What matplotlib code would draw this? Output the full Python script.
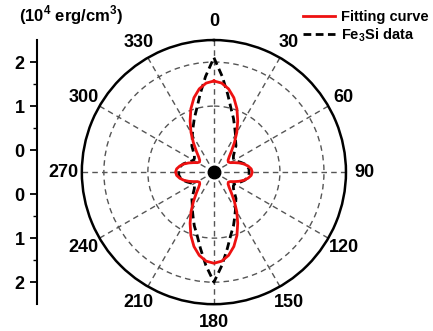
#Polar plot of magnetic anisotropy energy: fitting curve against Fe3Si data.
#Left side carries a linear scale matching the radial axis.

import numpy as np
import matplotlib
matplotlib.use('Agg')
import matplotlib.pyplot as plt

plt.rcParams['font.family'] = ['Liberation Sans', 'DejaVu Sans']
plt.rcParams['font.weight'] = 'bold'
plt.rcParams['mathtext.fontset'] = 'custom'
plt.rcParams['mathtext.rm'] = 'Liberation Sans:bold'
plt.rcParams['mathtext.bf'] = 'Liberation Sans:bold'

#angles in degrees, one value every 5 degrees
angles = list(range(0, 361, 5))

fit_curve = [1.57, 1.53, 1.42, 1.25, 1.03, 0.78, 0.54, 0.31, 0.12, -0.01,
             -0.08, -0.10, -0.07, 0.01, 0.11, 0.21, 0.29, 0.35, 0.37,
             0.35, 0.29, 0.21, 0.11, 0.01, -0.07, -0.10, -0.08, -0.01,
             0.12, 0.31, 0.54, 0.78, 1.03, 1.25, 1.42, 1.53, 1.57,
             1.53, 1.42, 1.25, 1.03, 0.78, 0.54, 0.31, 0.12, -0.01,
             -0.08, -0.10, -0.07, 0.01, 0.11, 0.21, 0.29, 0.35, 0.37,
             0.35, 0.29, 0.21, 0.11, 0.01, -0.07, -0.10, -0.08, -0.01,
             0.12, 0.31, 0.54, 0.78, 1.03, 1.25, 1.42, 1.53, 1.57]

fe3si_data = [2.10, 1.68, 1.30, 1.00, 0.80, 0.62, 0.48, 0.36, 0.28, 0.16,
              0.08, 0.04, 0.04, 0.08, 0.15, 0.22, 0.27, 0.30, 0.30,
              0.30, 0.27, 0.22, 0.15, 0.08, 0.04, 0.04, 0.08, 0.16,
              0.28, 0.36, 0.48, 0.62, 0.80, 0.98, 1.26, 1.62, 2.00,
              1.62, 1.26, 0.98, 0.80, 0.62, 0.48, 0.36, 0.28, 0.16,
              0.08, 0.04, 0.04, 0.08, 0.15, 0.22, 0.27, 0.30, 0.30,
              0.30, 0.27, 0.22, 0.15, 0.08, 0.04, 0.04, 0.08, 0.16,
              0.28, 0.36, 0.48, 0.62, 0.80, 1.00, 1.30, 1.68, 2.10]

angle_ticks = [0, 30, 60, 90, 120, 150, 180, 210, 240, 270, 300, 330]
scale_labels = ['2', '1', '0', '0', '1', '2']

r_min = -0.5
r_max = 2.5

fig = plt.figure(figsize=(4.33, 3.31), dpi=100)
ax = fig.add_axes([0.189, 0.081, 0.610, 0.798], projection='polar')
ax.set_theta_zero_location('N')
ax.set_theta_direction(-1)

theta = np.deg2rad(angles)
line_data, = ax.plot(theta, fe3si_data, color='black', lw=2.0,
                     linestyle=(0, (2.8, 1.6)), label='Fe$_\\mathbf{3}$Si data')
line_fit, = ax.plot(theta, fit_curve, color='#ee1111', lw=2.0, label='Fitting curve')
ax.plot([0], [r_min], 'o', color='black', markersize=9)

ax.set_ylim(r_min, r_max)
ax.set_yticks([1, 2])
ax.set_yticklabels([])
ax.set_xticks(np.deg2rad(angle_ticks))
ax.set_xticklabels([str(a) for a in angle_ticks], fontsize=13, fontweight='bold')
ax.set_xticks(np.deg2rad(np.arange(15, 360, 30)), minor=True)
ax.tick_params(axis='x', which='major', direction='in', length=5, width=1.2, pad=6)
ax.tick_params(axis='x', which='minor', direction='in', length=3, width=1.0)
ax.grid(True, color='#555555', linestyle=(0, (4, 3)), linewidth=1.0)
ax.spines['polar'].set_linewidth(1.8)

#linear scale on the left, in units of distance from the centre
ax2 = fig.add_axes([0.0855, 0.081, 0.001, 0.798])
ax2.set_ylim(-(r_max - r_min), r_max - r_min)
ax2.set_xlim(0, 1)
for s in ['right', 'top', 'bottom']:
    ax2.spines[s].set_visible(False)
ax2.spines['left'].set_linewidth(1.5)
ax2.set_xticks([])
ax2.set_yticks([2.5, 1.5, 0.5, -0.5, -1.5, -2.5])
ax2.set_yticklabels(scale_labels, fontsize=13, fontweight='bold')
ax2.set_yticks([2.0, 1.0, -1.0, -2.0], minor=True)
ax2.tick_params(axis='y', which='major', length=5, width=1.3, pad=4)
ax2.tick_params(axis='y', which='minor', length=3, width=1.0)
ax2.patch.set_visible(False)

fig.text(0.045, 0.955, '(10$^\\mathbf{4}$ erg/cm$^\\mathbf{3}$)', fontsize=12,
         fontweight='bold', va='center', ha='left')

fig.legend(handles=[line_fit, line_data], loc='upper right',
           bbox_to_anchor=(1.02, 1.01), frameon=False,
           handlelength=2.2, handletextpad=0.4, labelspacing=0.15,
           prop={'weight': 'bold', 'size': 10.5})

fig.savefig('out.png', dpi=100)
